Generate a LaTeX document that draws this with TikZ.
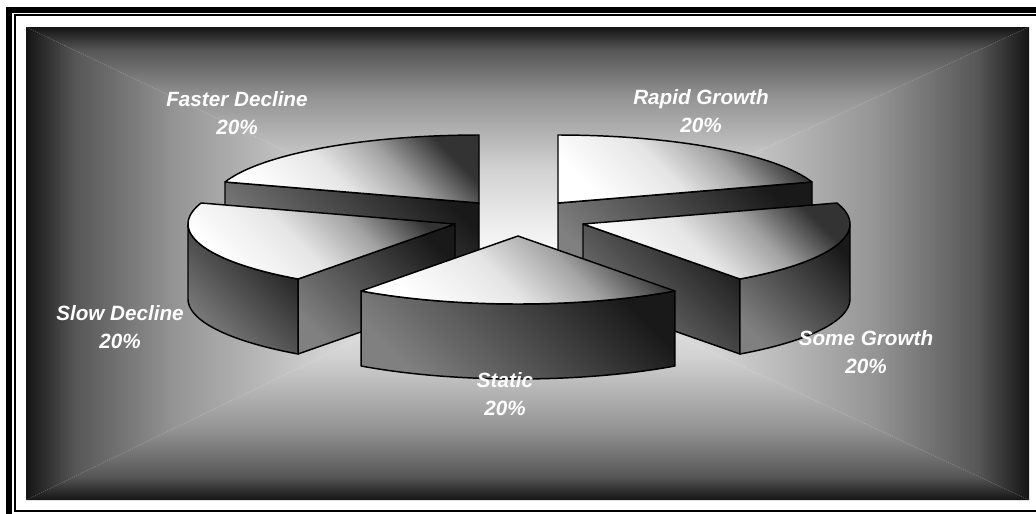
\documentclass[tikz,border=0pt]{standalone}
\usepackage{fontspec}
\setmainfont{Liberation Sans}
\usetikzlibrary{calc}
% shadings: background fade, slice tops, slice walls
\pgfdeclareverticalshading{bgfade}{100bp}{color(0bp)=(white); color(25bp)=(white);
  color(45bp)=(black!18); color(60bp)=(black!42); color(70bp)=(black!66);
  color(75bp)=(black!92); color(100bp)=(black!92)}
\pgfdeclarehorizontalshading{pietop}{100bp}{color(0bp)=(white); color(25bp)=(white);
  color(45bp)=(black!10); color(60bp)=(black!36); color(75bp)=(black!80); color(100bp)=(black!80)}
\pgfdeclarehorizontalshading{pieside}{100bp}{color(0bp)=(black!50); color(25bp)=(black!50);
  color(75bp)=(black!90); color(100bp)=(black!90)}
\def\ra{267}
\def\rb{68}
\def\dep{75}
\tikzset{
  topface/.style  = {draw=black, line width=1.1pt, line join=round, shading=pietop, shading angle=45},
  sideface/.style = {draw=black, line width=1.1pt, line join=round, shading=pieside, shading angle=45},
  pielabel/.style = {text=white, align=center, inner sep=0pt,
                     font=\fontsize{15.5}{20.5}\selectfont\bfseries\itshape},
}
\begin{document}
\begin{tikzpicture}[x=0.75pt, y=-0.75pt]
  \useasboundingbox (0,0) rectangle (1036,514);
  \fill[white] (0,0) rectangle (1036,514);
  % plot area, faded from the middle
  \coordinate (mid) at (518,262);
  \begin{scope}
    \clip (26,27) -- (1029,27) -- (mid) -- cycle;
    \shade[shading=bgfade] (26,27) rectangle (1029,262);
  \end{scope}
  \begin{scope}
    \clip (26,500) -- (1029,500) -- (mid) -- cycle;
    \shade[shading=bgfade, shading angle=180] (26,262) rectangle (1029,500);
  \end{scope}
  \begin{scope}
    \clip (26,27) -- (26,500) -- (mid) -- cycle;
    \shade[shading=bgfade, shading angle=90] (26,27) rectangle (518,500);
  \end{scope}
  \begin{scope}
    \clip (1029,27) -- (1029,500) -- (mid) -- cycle;
    \shade[shading=bgfade, shading angle=-90] (518,27) rectangle (1029,500);
  \end{scope}
  % frame
  \fill (6,7) rectangle (1036,13);
  \fill (6,7) rectangle (12,514);
  \draw[line width=1.5pt] (1036,15) -- (15,15) -- (15,511) -- (1036,511);
  % Faster Decline
  \shadedraw[sideface] (479,203) -- (225,182) -- (225,257) -- (479,278) -- cycle;
  \shadedraw[topface] (479,203) -- plot[domain=90:162, samples=40] ({479+\ra*cos(\x)},{203-\rb*sin(\x)}) -- cycle;
  % Rapid Growth
  \shadedraw[sideface] (558,203) -- (812,182) -- (812,257) -- (558,278) -- cycle;
  \shadedraw[topface] (558,203) -- plot[domain=18:90, samples=40] ({558+\ra*cos(\x)},{203-\rb*sin(\x)}) -- cycle;
  % Slow Decline
  \shadedraw[sideface] (455,224) -- (298,279) -- (298,354) -- (455,299) -- cycle;
  \shadedraw[sideface] plot[domain=180:234, samples=30] ({455+\ra*cos(\x)},{224-\rb*sin(\x)})
    -- plot[domain=234:180, samples=30] ({455+\ra*cos(\x)},{224+\dep-\rb*sin(\x)}) -- cycle;
  \shadedraw[topface] (455,224) -- plot[domain=162:234, samples=40] ({455+\ra*cos(\x)},{224-\rb*sin(\x)}) -- cycle;
  % Some Growth
  \shadedraw[sideface] (583,224) -- (740,279) -- (740,354) -- (583,299) -- cycle;
  \shadedraw[sideface] plot[domain=306:360, samples=30] ({583+\ra*cos(\x)},{224-\rb*sin(\x)})
    -- plot[domain=360:306, samples=30] ({583+\ra*cos(\x)},{224+\dep-\rb*sin(\x)}) -- cycle;
  \shadedraw[topface] (583,224) -- plot[domain=-54:18, samples=40] ({583+\ra*cos(\x)},{224-\rb*sin(\x)}) -- cycle;
  % Static
  \shadedraw[sideface] plot[domain=234:306, samples=40] ({518+\ra*cos(\x)},{236-\rb*sin(\x)})
    -- plot[domain=306:234, samples=40] ({518+\ra*cos(\x)},{236+\dep-\rb*sin(\x)}) -- cycle;
  \shadedraw[topface] (518,236) -- plot[domain=234:306, samples=40] ({518+\ra*cos(\x)},{236-\rb*sin(\x)}) -- cycle;
  % labels
  \node[pielabel] (lblfaster) at (237,113) {Faster Decline\\20\%};
  \node[pielabel] (lblrapid)  at (701,111) {Rapid Growth\\20\%};
  \node[pielabel] (lblslow)   at (120,327) {Slow Decline\\20\%};
  \node[pielabel] (lblsome)   at (866,352) {Some Growth\\20\%};
  \node[pielabel] (lblstatic) at (505,394) {Static\\20\%};
\end{tikzpicture}
\end{document}
